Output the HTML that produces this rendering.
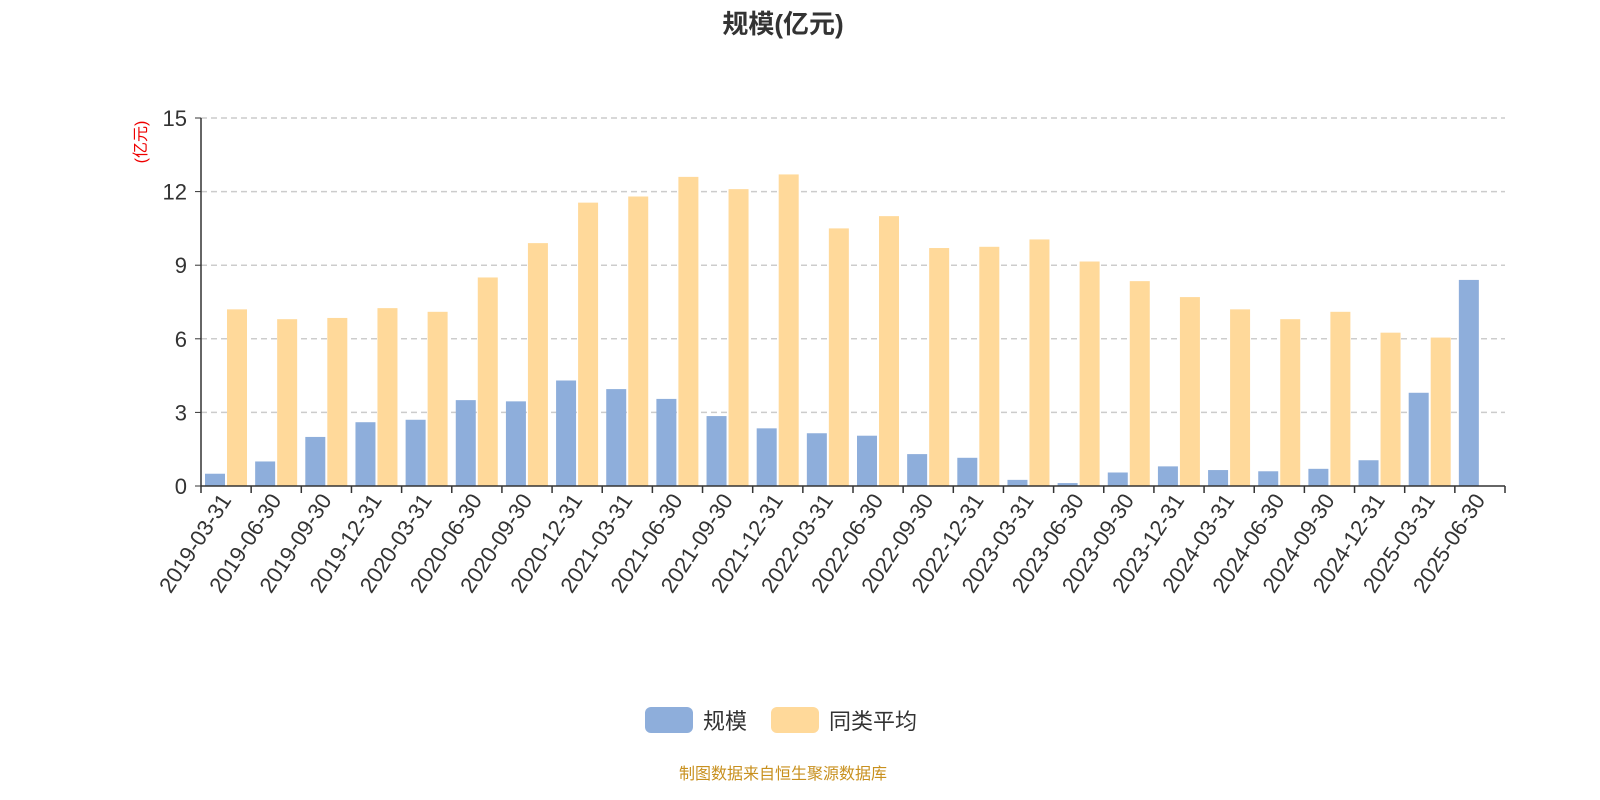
<!DOCTYPE html>
<html><head><meta charset="utf-8"><style>
body{margin:0;background:#fff;}
svg{display:block;font-family:"Liberation Sans","Noto Sans CJK SC",sans-serif;}
</style></head><body>
<svg id="chart" width="1600" height="800">
<text x="783" y="33" text-anchor="middle" font-size="26" font-weight="bold" fill="#333">规模(亿元)</text>
<text transform="translate(146,142) rotate(-90)" text-anchor="middle" font-size="16" fill="#e00">(亿元)</text>
<g id="grid"></g><g id="bars"></g><g id="axes"></g>
<g>
<rect x="645" y="707" width="48" height="26" rx="6" fill="#8eaedb"/>
<text x="703" y="729" font-size="22" fill="#333">规模</text>
<rect x="771" y="707" width="48" height="26" rx="6" fill="#ffd99a"/>
<text x="829" y="729" font-size="22" fill="#333">同类平均</text>
</g>
<text x="783" y="779" text-anchor="middle" font-size="16" fill="#c8901e">制图数据来自恒生聚源数据库</text>
</svg>
<script>
const categories=["2019-03-31","2019-06-30","2019-09-30","2019-12-31","2020-03-31","2020-06-30","2020-09-30","2020-12-31","2021-03-31","2021-06-30","2021-09-30","2021-12-31","2022-03-31","2022-06-30","2022-09-30","2022-12-31","2023-03-31","2023-06-30","2023-09-30","2023-12-31","2024-03-31","2024-06-30","2024-09-30","2024-12-31","2025-03-31","2025-06-30"];
const scaleValues=[0.5,1.0,2.0,2.6,2.7,3.5,3.45,4.3,3.95,3.55,2.85,2.35,2.15,2.05,1.3,1.15,0.25,0.12,0.55,0.8,0.65,0.6,0.7,1.05,3.8,8.4];
const avgValues=[7.2,6.8,6.85,7.25,7.1,8.5,9.9,11.55,11.8,12.6,12.1,12.7,10.5,11.0,9.7,9.75,10.05,9.15,8.35,7.7,7.2,6.8,7.1,6.25,6.05,null];
const yTicks=[0,3,6,9,12,15];
const NS="http://www.w3.org/2000/svg";
const X0=201,X1=1505,Y0=486,Y1=118,YMAX=15;
const band=(X1-X0)/categories.length;
const y=v=>Y0-(v/YMAX)*(Y0-Y1);
const xb=i=>X0+i*band;
function mk(t,a,p){const e=document.createElementNS(NS,t);for(const k in a)e.setAttribute(k,a[k]);p.appendChild(e);return e;}
const grid=document.getElementById('grid'),bars=document.getElementById('bars'),axes=document.getElementById('axes');
yTicks.forEach(v=>{
 if(v>0){const l=mk('line',{x1:X0,x2:X1,y1:y(v),y2:y(v),stroke:'#ccc','stroke-dasharray':'6,4','stroke-width':1.5},grid);
 
 }
 const tk=mk('line',{x1:X0-6,x2:X0,y1:y(v),y2:y(v),stroke:'#333'},axes);
 
 
 const t=mk('text',{x:X0-14,y:y(v)+8,'text-anchor':'end','font-size':22,fill:'#333'},axes);
 t.textContent=v;
 
 
});
categories.forEach((c,i)=>{
 const bx=xb(i);
 if(scaleValues[i]!=null){const r=mk('rect',{x:bx+4,y:y(scaleValues[i]),width:20,height:Y0-y(scaleValues[i]),fill:'#8eaedb'},bars);
 
 }
 if(avgValues[i]!=null){const r=mk('rect',{x:bx+26,y:y(avgValues[i]),width:20,height:Y0-y(avgValues[i]),fill:'#ffd99a'},bars);
 
 }
 const tk=mk('line',{x1:bx,x2:bx,y1:Y0,y2:Y0+7,stroke:'#333','stroke-width':1.5},axes);
 
 
 const cx=bx+band/2;
 const t=mk('text',{transform:`translate(${cx+6},${Y0+14}) rotate(-57)`,'text-anchor':'end','font-size':22,fill:'#333'},axes);
 t.textContent=c;
 
 
});
const tkEnd=mk('line',{x1:X1,x2:X1,y1:Y0,y2:Y0+7,stroke:'#333','stroke-width':1.5},axes);


const xa=mk('line',{x1:X0,x2:X1,y1:Y0,y2:Y0,stroke:'#333','stroke-width':1.5},axes);


const ya=mk('line',{x1:X0,x2:X0,y1:Y1,y2:Y0,stroke:'#333','stroke-width':1.5},axes);


</script>
</body></html>
